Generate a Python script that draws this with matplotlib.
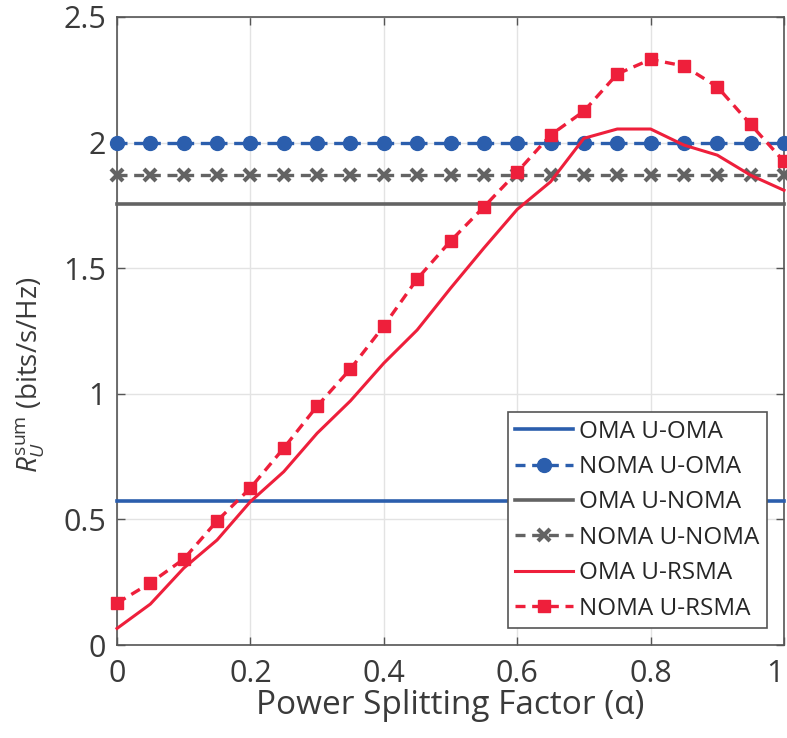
import numpy as np
import matplotlib
matplotlib.use("Agg")
import matplotlib.pyplot as plt
from matplotlib.ticker import FuncFormatter

plt.rcParams['font.family'] = ['Open Sans', 'DejaVu Sans']
plt.rcParams['mathtext.fontset'] = 'custom'
plt.rcParams['mathtext.rm'] = 'Open Sans'
plt.rcParams['mathtext.it'] = 'Open Sans:italic'

# data
alpha = [0.0, 0.05, 0.1, 0.15, 0.2, 0.25, 0.3, 0.35, 0.4, 0.45, 0.5,
         0.55, 0.6, 0.65, 0.7, 0.75, 0.8, 0.85, 0.9, 0.95, 1.0]
oma_uoma = [0.573] * 21
noma_uoma = [2.0] * 21
oma_unoma = [1.755] * 21
noma_unoma = [1.87] * 21
oma_ursma = [0.066, 0.163, 0.306, 0.418, 0.571, 0.69, 0.843, 0.972, 1.122, 1.254, 1.42,
             1.58, 1.734, 1.844, 2.017, 2.054, 2.054, 1.99, 1.95, 1.87, 1.81]
noma_ursma = [0.167, 0.247, 0.342, 0.494, 0.625, 0.784, 0.951, 1.099, 1.27, 1.457, 1.608,
              1.744, 1.883, 2.03, 2.125, 2.273, 2.331, 2.305, 2.222, 2.072, 1.925]

blue = '#2b5ead'
gray = '#636363'
red = '#ee1f3b'

fig = plt.figure(figsize=(7.87, 7.38), dpi=100)
ax = fig.add_axes([0.1487, 0.126, 0.8475, 0.851])

ax.plot(alpha, oma_uoma, color=blue, lw=2.6, label='OMA U-OMA', clip_on=False, zorder=3)
ax.plot(alpha, noma_uoma, color=blue, lw=2.4, ls=(0, (3, 2)), marker='o', ms=10,
        label='NOMA U-OMA', clip_on=False, zorder=4)
ax.plot(alpha, oma_unoma, color=gray, lw=2.6, label='OMA U-NOMA', clip_on=False, zorder=3)
ax.plot(alpha, noma_unoma, color=gray, lw=2.4, ls=(0, (3, 2)), marker='x', ms=9, mew=3,
        label='NOMA U-NOMA', clip_on=False, zorder=4)
ax.plot(alpha, oma_ursma, color=red, lw=2.2, label='OMA U-RSMA', clip_on=False, zorder=5)
ax.plot(alpha, noma_ursma, color=red, lw=2.4, ls=(0, (3, 2)), marker='s', ms=8.5,
        label='NOMA U-RSMA', clip_on=False, zorder=6)

ax.set_xlim(0, 1)
ax.set_ylim(0, 2.5)
ax.set_xticks([0, 0.2, 0.4, 0.6, 0.8, 1.0])
ax.set_yticks([0, 0.5, 1, 1.5, 2, 2.5])
fmt = FuncFormatter(lambda v, p: ('%g' % v))
ax.xaxis.set_major_formatter(fmt)
ax.yaxis.set_major_formatter(fmt)
ax.tick_params(direction='in', length=6, width=1, colors='#555555', labelsize=22,
               labelcolor='#3a3a3a', top=True, right=True, labeltop=False, labelright=False)
ax.tick_params(axis='x', pad=10)
ax.tick_params(axis='y', pad=8)
ax.grid(True, color='#e3e3e3', lw=1)
ax.set_axisbelow(True)
for s in ax.spines.values():
    s.set_color('#555555')
    s.set_linewidth(1.2)
fig.canvas.draw()
ax.get_xticklabels()[-1].set_horizontalalignment('right')

ax.set_xlabel('Power Splitting Factor (\u03b1)', fontsize=24, color='#3a3a3a', labelpad=0)
ax.set_ylabel(r'$R_U^{\mathrm{sum}}$ (bits/s/Hz)', fontsize=20, color='#3a3a3a')
ax.yaxis.set_label_coords(-0.105, 0.43)

leg = ax.legend(loc='lower right', fontsize=17.5, handlelength=2.4, labelspacing=0.47,
                borderaxespad=0.7, handletextpad=0.25, borderpad=0.3, fancybox=False,
                framealpha=1, edgecolor='#555555')
leg.get_frame().set_linewidth(1.2)
for t in leg.get_texts():
    t.set_color('#262626')

fig.savefig('out.png', dpi=100)
